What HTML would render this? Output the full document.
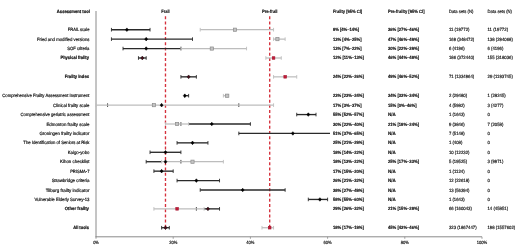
<!DOCTYPE html>
<html><head><meta charset="utf-8"><title>Frailty prevalence forest plot</title>
<style>html,body{margin:0;padding:0;background:#fff;width:520px;height:249px;overflow:hidden}svg{display:block}</style>
</head><body>
<svg width="520" height="249" viewBox="0 0 520 249">
<rect width="520" height="249" fill="#fff"/>
<g><line x1="96" y1="11" x2="96" y2="237.3" stroke="#8a8a8a" stroke-width="1"/><line x1="95.5" y1="236.8" x2="482.00" y2="236.8" stroke="#8a8a8a" stroke-width="1"/><line x1="96.00" y1="236.8" x2="96.00" y2="238.80" stroke="#8a8a8a" stroke-width="0.8"/><line x1="173.20" y1="236.8" x2="173.20" y2="238.80" stroke="#8a8a8a" stroke-width="0.8"/><line x1="250.40" y1="236.8" x2="250.40" y2="238.80" stroke="#8a8a8a" stroke-width="0.8"/><line x1="327.60" y1="236.8" x2="327.60" y2="238.80" stroke="#8a8a8a" stroke-width="0.8"/><line x1="404.80" y1="236.8" x2="404.80" y2="238.80" stroke="#8a8a8a" stroke-width="0.8"/><line x1="482.00" y1="236.8" x2="482.00" y2="238.80" stroke="#8a8a8a" stroke-width="0.8"/></g>
<g><line x1="165.48" y1="16.2" x2="165.48" y2="227.73" stroke="#d5303c" stroke-width="1.35" stroke-dasharray="3.0 2.216"/><line x1="269.70" y1="16.2" x2="269.70" y2="227.73" stroke="#d5303c" stroke-width="1.35" stroke-dasharray="3.0 2.216"/></g>
<g><line x1="111.44" y1="29.70" x2="150.04" y2="29.70" stroke="#2a2a2a" stroke-width="1.35"/><line x1="111.44" y1="27.90" x2="111.44" y2="31.50" stroke="#2a2a2a" stroke-width="0.9"/><line x1="150.04" y1="27.90" x2="150.04" y2="31.50" stroke="#2a2a2a" stroke-width="0.9"/><line x1="111.44" y1="39.13" x2="192.50" y2="39.13" stroke="#2a2a2a" stroke-width="1.35"/><line x1="111.44" y1="37.33" x2="111.44" y2="40.93" stroke="#2a2a2a" stroke-width="0.9"/><line x1="192.50" y1="37.33" x2="192.50" y2="40.93" stroke="#2a2a2a" stroke-width="0.9"/><line x1="123.02" y1="48.56" x2="180.92" y2="48.56" stroke="#2a2a2a" stroke-width="1.35"/><line x1="123.02" y1="46.76" x2="123.02" y2="50.36" stroke="#2a2a2a" stroke-width="0.9"/><line x1="180.92" y1="46.76" x2="180.92" y2="50.36" stroke="#2a2a2a" stroke-width="0.9"/><line x1="138.46" y1="57.99" x2="146.18" y2="57.99" stroke="#2a2a2a" stroke-width="1.35"/><line x1="138.46" y1="56.19" x2="138.46" y2="59.79" stroke="#2a2a2a" stroke-width="0.9"/><line x1="146.18" y1="56.19" x2="146.18" y2="59.79" stroke="#2a2a2a" stroke-width="0.9"/><line x1="180.92" y1="76.85" x2="196.36" y2="76.85" stroke="#2a2a2a" stroke-width="1.35"/><line x1="180.92" y1="75.05" x2="180.92" y2="78.65" stroke="#2a2a2a" stroke-width="0.9"/><line x1="196.36" y1="75.05" x2="196.36" y2="78.65" stroke="#2a2a2a" stroke-width="0.9"/><line x1="184.78" y1="95.71" x2="188.64" y2="95.71" stroke="#2a2a2a" stroke-width="1.35"/><line x1="184.78" y1="93.91" x2="184.78" y2="97.51" stroke="#2a2a2a" stroke-width="0.9"/><line x1="188.64" y1="93.91" x2="188.64" y2="97.51" stroke="#2a2a2a" stroke-width="0.9"/><line x1="107.58" y1="103.34" x2="107.58" y2="106.94" stroke="#2a2a2a" stroke-width="0.9"/><line x1="238.82" y1="103.34" x2="238.82" y2="106.94" stroke="#2a2a2a" stroke-width="0.9"/><line x1="296.72" y1="114.57" x2="316.02" y2="114.57" stroke="#2a2a2a" stroke-width="1.35"/><line x1="296.72" y1="112.77" x2="296.72" y2="116.37" stroke="#2a2a2a" stroke-width="0.9"/><line x1="316.02" y1="112.77" x2="316.02" y2="116.37" stroke="#2a2a2a" stroke-width="0.9"/><line x1="188.64" y1="124.00" x2="250.40" y2="124.00" stroke="#2a2a2a" stroke-width="1.35"/><line x1="180.92" y1="122.20" x2="180.92" y2="125.80" stroke="#2a2a2a" stroke-width="0.9"/><line x1="250.40" y1="122.20" x2="250.40" y2="125.80" stroke="#2a2a2a" stroke-width="0.9"/><line x1="238.82" y1="133.43" x2="330.00" y2="133.43" stroke="#2a2a2a" stroke-width="1.35"/><line x1="238.82" y1="131.63" x2="238.82" y2="135.23" stroke="#2a2a2a" stroke-width="0.9"/><line x1="177.06" y1="142.86" x2="207.94" y2="142.86" stroke="#2a2a2a" stroke-width="1.35"/><line x1="177.06" y1="141.06" x2="177.06" y2="144.66" stroke="#2a2a2a" stroke-width="0.9"/><line x1="207.94" y1="141.06" x2="207.94" y2="144.66" stroke="#2a2a2a" stroke-width="0.9"/><line x1="150.04" y1="152.29" x2="180.92" y2="152.29" stroke="#2a2a2a" stroke-width="1.35"/><line x1="150.04" y1="150.49" x2="150.04" y2="154.09" stroke="#2a2a2a" stroke-width="0.9"/><line x1="180.92" y1="150.49" x2="180.92" y2="154.09" stroke="#2a2a2a" stroke-width="0.9"/><line x1="146.18" y1="161.72" x2="161.62" y2="161.72" stroke="#2a2a2a" stroke-width="1.35"/><line x1="146.18" y1="159.92" x2="146.18" y2="163.52" stroke="#2a2a2a" stroke-width="0.9"/><line x1="180.92" y1="159.92" x2="180.92" y2="163.52" stroke="#2a2a2a" stroke-width="0.9"/><line x1="153.90" y1="171.15" x2="173.20" y2="171.15" stroke="#2a2a2a" stroke-width="1.35"/><line x1="153.90" y1="169.35" x2="153.90" y2="172.95" stroke="#2a2a2a" stroke-width="0.9"/><line x1="173.20" y1="169.35" x2="173.20" y2="172.95" stroke="#2a2a2a" stroke-width="0.9"/><line x1="177.06" y1="180.58" x2="219.52" y2="180.58" stroke="#2a2a2a" stroke-width="1.35"/><line x1="177.06" y1="178.78" x2="177.06" y2="182.38" stroke="#2a2a2a" stroke-width="0.9"/><line x1="219.52" y1="178.78" x2="219.52" y2="182.38" stroke="#2a2a2a" stroke-width="0.9"/><line x1="200.22" y1="190.01" x2="285.14" y2="190.01" stroke="#2a2a2a" stroke-width="1.35"/><line x1="200.22" y1="188.21" x2="200.22" y2="191.81" stroke="#2a2a2a" stroke-width="0.9"/><line x1="285.14" y1="188.21" x2="285.14" y2="191.81" stroke="#2a2a2a" stroke-width="0.9"/><line x1="308.30" y1="199.44" x2="327.60" y2="199.44" stroke="#2a2a2a" stroke-width="1.35"/><line x1="308.30" y1="197.64" x2="308.30" y2="201.24" stroke="#2a2a2a" stroke-width="0.9"/><line x1="327.60" y1="197.64" x2="327.60" y2="201.24" stroke="#2a2a2a" stroke-width="0.9"/><line x1="204.08" y1="208.87" x2="219.52" y2="208.87" stroke="#2a2a2a" stroke-width="1.35"/><line x1="196.36" y1="207.07" x2="196.36" y2="210.67" stroke="#2a2a2a" stroke-width="0.9"/><line x1="219.52" y1="207.07" x2="219.52" y2="210.67" stroke="#2a2a2a" stroke-width="0.9"/><line x1="161.62" y1="227.73" x2="169.34" y2="227.73" stroke="#2a2a2a" stroke-width="1.35"/><line x1="161.62" y1="225.93" x2="161.62" y2="229.53" stroke="#2a2a2a" stroke-width="0.9"/><line x1="169.34" y1="225.93" x2="169.34" y2="229.53" stroke="#2a2a2a" stroke-width="0.9"/></g>
<g><line x1="200.22" y1="29.70" x2="273.56" y2="29.70" stroke="#bdbdbd" stroke-width="1.25"/><line x1="200.22" y1="27.90" x2="200.22" y2="31.50" stroke="#bdbdbd" stroke-width="0.9"/><line x1="273.56" y1="27.90" x2="273.56" y2="31.50" stroke="#bdbdbd" stroke-width="0.9"/><line x1="273.56" y1="39.13" x2="285.14" y2="39.13" stroke="#bdbdbd" stroke-width="1.25"/><line x1="273.56" y1="37.33" x2="273.56" y2="40.93" stroke="#bdbdbd" stroke-width="0.9"/><line x1="285.14" y1="37.33" x2="285.14" y2="40.93" stroke="#bdbdbd" stroke-width="0.9"/><line x1="180.92" y1="48.56" x2="246.54" y2="48.56" stroke="#bdbdbd" stroke-width="1.25"/><line x1="180.92" y1="46.76" x2="180.92" y2="50.36" stroke="#bdbdbd" stroke-width="0.9"/><line x1="246.54" y1="46.76" x2="246.54" y2="50.36" stroke="#bdbdbd" stroke-width="0.9"/><line x1="265.84" y1="57.99" x2="281.28" y2="57.99" stroke="#bdbdbd" stroke-width="1.25"/><line x1="265.84" y1="56.19" x2="265.84" y2="59.79" stroke="#bdbdbd" stroke-width="0.9"/><line x1="281.28" y1="56.19" x2="281.28" y2="59.79" stroke="#bdbdbd" stroke-width="0.9"/><line x1="273.56" y1="76.85" x2="296.72" y2="76.85" stroke="#bdbdbd" stroke-width="1.25"/><line x1="273.56" y1="75.05" x2="273.56" y2="78.65" stroke="#bdbdbd" stroke-width="0.9"/><line x1="296.72" y1="75.05" x2="296.72" y2="78.65" stroke="#bdbdbd" stroke-width="0.9"/><line x1="223.38" y1="95.71" x2="227.24" y2="95.71" stroke="#bdbdbd" stroke-width="1.25"/><line x1="223.38" y1="93.91" x2="223.38" y2="97.51" stroke="#bdbdbd" stroke-width="0.9"/><line x1="227.24" y1="93.91" x2="227.24" y2="97.51" stroke="#bdbdbd" stroke-width="0.9"/><line x1="96.00" y1="105.14" x2="273.56" y2="105.14" stroke="#bdbdbd" stroke-width="1.25"/><line x1="96.00" y1="103.34" x2="96.00" y2="106.94" stroke="#bdbdbd" stroke-width="0.9"/><line x1="273.56" y1="103.34" x2="273.56" y2="106.94" stroke="#bdbdbd" stroke-width="0.9"/><line x1="165.48" y1="124.00" x2="188.64" y2="124.00" stroke="#bdbdbd" stroke-width="1.25"/><line x1="165.48" y1="122.20" x2="165.48" y2="125.80" stroke="#bdbdbd" stroke-width="0.9"/><line x1="188.64" y1="122.20" x2="188.64" y2="125.80" stroke="#bdbdbd" stroke-width="0.9"/><line x1="161.62" y1="161.72" x2="223.38" y2="161.72" stroke="#bdbdbd" stroke-width="1.25"/><line x1="161.62" y1="159.92" x2="161.62" y2="163.52" stroke="#bdbdbd" stroke-width="0.9"/><line x1="223.38" y1="159.92" x2="223.38" y2="163.52" stroke="#bdbdbd" stroke-width="0.9"/><line x1="153.90" y1="208.87" x2="204.08" y2="208.87" stroke="#bdbdbd" stroke-width="1.25"/><line x1="153.90" y1="207.07" x2="153.90" y2="210.67" stroke="#bdbdbd" stroke-width="0.9"/><line x1="204.08" y1="207.07" x2="204.08" y2="210.67" stroke="#bdbdbd" stroke-width="0.9"/><line x1="261.98" y1="227.73" x2="273.56" y2="227.73" stroke="#bdbdbd" stroke-width="1.25"/><line x1="261.98" y1="225.93" x2="261.98" y2="229.53" stroke="#bdbdbd" stroke-width="0.9"/><line x1="273.56" y1="225.93" x2="273.56" y2="229.53" stroke="#bdbdbd" stroke-width="0.9"/></g>
<g><rect x="233.36" y="28.10" width="3.20" height="3.20" fill="#c4c4c4" stroke="#8c8c8c" stroke-width="0.7"/><path d="M126.88 27.90L128.41 29.70L126.88 31.50L125.35 29.70Z" fill="#000" stroke="#000" stroke-width="0.5"/><rect x="275.82" y="37.53" width="3.20" height="3.20" fill="#c4c4c4" stroke="#8c8c8c" stroke-width="0.7"/><path d="M146.18 37.33L147.71 39.13L146.18 40.93L144.65 39.13Z" fill="#000" stroke="#000" stroke-width="0.5"/><rect x="210.20" y="46.96" width="3.20" height="3.20" fill="#c4c4c4" stroke="#8c8c8c" stroke-width="0.7"/><path d="M146.18 46.76L147.71 48.56L146.18 50.36L144.65 48.56Z" fill="#000" stroke="#000" stroke-width="0.5"/><rect x="272.31" y="56.74" width="2.50" height="2.50" fill="#c41c38" stroke="#a81530" stroke-width="0.7"/><path d="M142.32 56.09L143.94 57.99L142.32 59.89L140.70 57.99Z" fill="#4a0a18" stroke="#111" stroke-width="0.5"/><rect x="283.89" y="75.60" width="2.50" height="2.50" fill="#c41c38" stroke="#a81530" stroke-width="0.7"/><path d="M188.64 74.95L190.25 76.85L188.64 78.75L187.02 76.85Z" fill="#4a0a18" stroke="#111" stroke-width="0.5"/><rect x="225.64" y="94.11" width="3.20" height="3.20" fill="#c4c4c4" stroke="#8c8c8c" stroke-width="0.7"/><path d="M184.78 93.91L186.31 95.71L184.78 97.51L183.25 95.71Z" fill="#000" stroke="#000" stroke-width="0.5"/><rect x="152.30" y="103.54" width="3.20" height="3.20" fill="#c4c4c4" stroke="#8c8c8c" stroke-width="0.7"/><path d="M161.62 103.34L163.15 105.14L161.62 106.94L160.09 105.14Z" fill="#000" stroke="#000" stroke-width="0.5"/><path d="M308.30 112.77L309.83 114.57L308.30 116.37L306.77 114.57Z" fill="#000" stroke="#000" stroke-width="0.5"/><rect x="175.46" y="122.40" width="3.20" height="3.20" fill="#c4c4c4" stroke="#8c8c8c" stroke-width="0.7"/><path d="M211.80 122.20L213.33 124.00L211.80 125.80L210.27 124.00Z" fill="#000" stroke="#000" stroke-width="0.5"/><path d="M292.86 131.63L294.39 133.43L292.86 135.23L291.33 133.43Z" fill="#000" stroke="#000" stroke-width="0.5"/><path d="M192.50 141.06L194.03 142.86L192.50 144.66L190.97 142.86Z" fill="#000" stroke="#000" stroke-width="0.5"/><path d="M165.48 150.49L167.01 152.29L165.48 154.09L163.95 152.29Z" fill="#000" stroke="#000" stroke-width="0.5"/><rect x="190.90" y="160.12" width="3.20" height="3.20" fill="#c4c4c4" stroke="#8c8c8c" stroke-width="0.7"/><path d="M165.48 159.92L167.01 161.72L165.48 163.52L163.95 161.72Z" fill="#000" stroke="#000" stroke-width="0.5"/><path d="M161.62 169.35L163.15 171.15L161.62 172.95L160.09 171.15Z" fill="#000" stroke="#000" stroke-width="0.5"/><path d="M196.36 178.78L197.89 180.58L196.36 182.38L194.83 180.58Z" fill="#000" stroke="#000" stroke-width="0.5"/><path d="M242.68 188.21L244.21 190.01L242.68 191.81L241.15 190.01Z" fill="#000" stroke="#000" stroke-width="0.5"/><path d="M319.88 197.64L321.41 199.44L319.88 201.24L318.35 199.44Z" fill="#000" stroke="#000" stroke-width="0.5"/><rect x="175.81" y="207.62" width="2.50" height="2.50" fill="#c41c38" stroke="#a81530" stroke-width="0.7"/><path d="M207.94 206.97L209.56 208.87L207.94 210.77L206.32 208.87Z" fill="#4a0a18" stroke="#111" stroke-width="0.5"/><rect x="268.45" y="226.48" width="2.50" height="2.50" fill="#c41c38" stroke="#a81530" stroke-width="0.7"/><path d="M165.48 225.83L167.10 227.73L165.48 229.63L163.87 227.73Z" fill="#4a0a18" stroke="#111" stroke-width="0.5"/></g>
<g font-family="'Liberation Sans', Arial, sans-serif" font-size="4.6" fill="#111" stroke="#111" stroke-width="0.1" text-rendering="geometricPrecision"><text x="56.85" y="12.60" text-anchor="start" font-weight="bold" stroke-width="0.2" textLength="33.10" lengthAdjust="spacingAndGlyphs">Assessment tool</text><text x="165.48" y="12.60" text-anchor="middle" font-weight="bold" stroke-width="0.15" textLength="8.35" lengthAdjust="spacingAndGlyphs">Frail</text><text x="269.70" y="12.60" text-anchor="middle" font-weight="bold" stroke-width="0.15" textLength="15.57" lengthAdjust="spacingAndGlyphs">Pre-frail</text><text x="332.90" y="12.60" text-anchor="start" font-weight="bold" stroke-width="0.15" textLength="29.32" lengthAdjust="spacingAndGlyphs">Frailty [95% CI]</text><text x="388.00" y="12.60" text-anchor="start" font-weight="bold" stroke-width="0.15" textLength="36.54" lengthAdjust="spacingAndGlyphs">Pre-frailty [95% CI]</text><text x="448.90" y="12.60" text-anchor="start" font-weight="normal" stroke-width="0.16" textLength="24.44" lengthAdjust="spacingAndGlyphs">Data sets (N)</text><text x="487.50" y="12.60" text-anchor="start" font-weight="normal" stroke-width="0.16" textLength="24.44" lengthAdjust="spacingAndGlyphs">Data sets (N)</text><text x="67.85" y="31.20" text-anchor="start" font-weight="normal" stroke-width="0.18" textLength="21.60" lengthAdjust="spacingAndGlyphs">FRAIL scale</text><text x="332.90" y="31.20" text-anchor="start" font-weight="bold" stroke-width="0.15" textLength="26.26" lengthAdjust="spacingAndGlyphs">8% [4%–14%]</text><text x="388.00" y="31.20" text-anchor="start" font-weight="bold" stroke-width="0.15" textLength="31.03" lengthAdjust="spacingAndGlyphs">36% [27%–46%]</text><text x="448.90" y="31.20" text-anchor="start" font-weight="normal" stroke-width="0.16" textLength="20.59" lengthAdjust="spacingAndGlyphs">11 (19772)</text><text x="487.50" y="31.20" text-anchor="start" font-weight="normal" stroke-width="0.16" textLength="20.59" lengthAdjust="spacingAndGlyphs">11 (19772)</text><text x="36.95" y="40.63" text-anchor="start" font-weight="normal" stroke-width="0.18" textLength="52.50" lengthAdjust="spacingAndGlyphs">Fried and modified versions</text><text x="332.90" y="40.63" text-anchor="start" font-weight="bold" stroke-width="0.15" textLength="28.65" lengthAdjust="spacingAndGlyphs">13% [4%–25%]</text><text x="388.00" y="40.63" text-anchor="start" font-weight="bold" stroke-width="0.15" textLength="31.03" lengthAdjust="spacingAndGlyphs">47% [46%–49%]</text><text x="448.90" y="40.63" text-anchor="start" font-weight="normal" stroke-width="0.16" textLength="25.35" lengthAdjust="spacingAndGlyphs">169 (348472)</text><text x="487.50" y="40.63" text-anchor="start" font-weight="normal" stroke-width="0.16" textLength="25.35" lengthAdjust="spacingAndGlyphs">138 (294068)</text><text x="67.15" y="50.06" text-anchor="start" font-weight="normal" stroke-width="0.18" textLength="22.30" lengthAdjust="spacingAndGlyphs">SOF criteria</text><text x="332.90" y="50.06" text-anchor="start" font-weight="bold" stroke-width="0.15" textLength="28.65" lengthAdjust="spacingAndGlyphs">13% [7%–22%]</text><text x="388.00" y="50.06" text-anchor="start" font-weight="bold" stroke-width="0.15" textLength="31.03" lengthAdjust="spacingAndGlyphs">30% [22%–39%]</text><text x="448.90" y="50.06" text-anchor="start" font-weight="normal" stroke-width="0.16" textLength="15.82" lengthAdjust="spacingAndGlyphs">6 (4196)</text><text x="487.50" y="50.06" text-anchor="start" font-weight="normal" stroke-width="0.16" textLength="15.82" lengthAdjust="spacingAndGlyphs">6 (4196)</text><text x="60.45" y="59.49" text-anchor="start" font-weight="bold" stroke-width="0.2" textLength="28.50" lengthAdjust="spacingAndGlyphs">Physical frailty</text><text x="332.90" y="59.49" text-anchor="start" font-weight="bold" stroke-width="0.15" textLength="31.03" lengthAdjust="spacingAndGlyphs">12% [11%–13%]</text><text x="388.00" y="59.49" text-anchor="start" font-weight="bold" stroke-width="0.15" textLength="31.03" lengthAdjust="spacingAndGlyphs">46% [44%–48%]</text><text x="448.90" y="59.49" text-anchor="start" font-weight="normal" stroke-width="0.16" textLength="25.35" lengthAdjust="spacingAndGlyphs">186 (372440)</text><text x="487.50" y="59.49" text-anchor="start" font-weight="normal" stroke-width="0.16" textLength="25.35" lengthAdjust="spacingAndGlyphs">155 (318036)</text><text x="64.75" y="78.35" text-anchor="start" font-weight="bold" stroke-width="0.2" textLength="24.20" lengthAdjust="spacingAndGlyphs">Frailty index</text><text x="332.90" y="78.35" text-anchor="start" font-weight="bold" stroke-width="0.15" textLength="31.03" lengthAdjust="spacingAndGlyphs">24% [22%–26%]</text><text x="388.00" y="78.35" text-anchor="start" font-weight="bold" stroke-width="0.15" textLength="31.03" lengthAdjust="spacingAndGlyphs">49% [46%–52%]</text><text x="448.90" y="78.35" text-anchor="start" font-weight="normal" stroke-width="0.16" textLength="25.35" lengthAdjust="spacingAndGlyphs">71 (1334964)</text><text x="487.50" y="78.35" text-anchor="start" font-weight="normal" stroke-width="0.16" textLength="25.35" lengthAdjust="spacingAndGlyphs">29 (1193745)</text><text x="2.25" y="97.21" text-anchor="start" font-weight="normal" stroke-width="0.18" textLength="87.20" lengthAdjust="spacingAndGlyphs">Comprehensive Frailty Assessment Instrument</text><text x="332.90" y="97.21" text-anchor="start" font-weight="bold" stroke-width="0.15" textLength="31.03" lengthAdjust="spacingAndGlyphs">23% [23%–24%]</text><text x="388.00" y="97.21" text-anchor="start" font-weight="bold" stroke-width="0.15" textLength="31.03" lengthAdjust="spacingAndGlyphs">34% [33%–34%]</text><text x="448.90" y="97.21" text-anchor="start" font-weight="normal" stroke-width="0.16" textLength="18.21" lengthAdjust="spacingAndGlyphs">2 (29480)</text><text x="487.50" y="97.21" text-anchor="start" font-weight="normal" stroke-width="0.16" textLength="18.21" lengthAdjust="spacingAndGlyphs">1 (28245)</text><text x="53.05" y="106.64" text-anchor="start" font-weight="normal" stroke-width="0.18" textLength="36.40" lengthAdjust="spacingAndGlyphs">Clinical frailty scale</text><text x="332.90" y="106.64" text-anchor="start" font-weight="bold" stroke-width="0.15" textLength="28.65" lengthAdjust="spacingAndGlyphs">17% [3%–37%]</text><text x="388.00" y="106.64" text-anchor="start" font-weight="bold" stroke-width="0.15" textLength="28.65" lengthAdjust="spacingAndGlyphs">15% [0%–46%]</text><text x="448.90" y="106.64" text-anchor="start" font-weight="normal" stroke-width="0.16" textLength="15.82" lengthAdjust="spacingAndGlyphs">4 (5982)</text><text x="487.50" y="106.64" text-anchor="start" font-weight="normal" stroke-width="0.16" textLength="15.82" lengthAdjust="spacingAndGlyphs">3 (4277)</text><text x="20.55" y="116.07" text-anchor="start" font-weight="normal" stroke-width="0.18" textLength="68.90" lengthAdjust="spacingAndGlyphs">Comprehensive geriatric assessment</text><text x="332.90" y="116.07" text-anchor="start" font-weight="bold" stroke-width="0.15" textLength="31.03" lengthAdjust="spacingAndGlyphs">55% [52%–57%]</text><text x="388.00" y="116.07" text-anchor="start" font-weight="bold" stroke-width="0.15" textLength="7.76" lengthAdjust="spacingAndGlyphs">N/A</text><text x="448.90" y="116.07" text-anchor="start" font-weight="normal" stroke-width="0.16" textLength="15.82" lengthAdjust="spacingAndGlyphs">1 (1643)</text><text x="487.50" y="116.07" text-anchor="start" font-weight="normal" stroke-width="0.16" textLength="2.38" lengthAdjust="spacingAndGlyphs">0</text><text x="46.45" y="125.50" text-anchor="start" font-weight="normal" stroke-width="0.18" textLength="43.00" lengthAdjust="spacingAndGlyphs">Edmonton frailty scale</text><text x="332.90" y="125.50" text-anchor="start" font-weight="bold" stroke-width="0.15" textLength="31.03" lengthAdjust="spacingAndGlyphs">30% [22%–40%]</text><text x="388.00" y="125.50" text-anchor="start" font-weight="bold" stroke-width="0.15" textLength="31.03" lengthAdjust="spacingAndGlyphs">21% [18%–24%]</text><text x="448.90" y="125.50" text-anchor="start" font-weight="normal" stroke-width="0.16" textLength="15.82" lengthAdjust="spacingAndGlyphs">9 (3846)</text><text x="487.50" y="125.50" text-anchor="start" font-weight="normal" stroke-width="0.16" textLength="15.82" lengthAdjust="spacingAndGlyphs">7 (2058)</text><text x="39.45" y="134.93" text-anchor="start" font-weight="normal" stroke-width="0.18" textLength="50.00" lengthAdjust="spacingAndGlyphs">Groningen frailty indicator</text><text x="332.90" y="134.93" text-anchor="start" font-weight="bold" stroke-width="0.15" textLength="31.03" lengthAdjust="spacingAndGlyphs">51% [37%–65%]</text><text x="388.00" y="134.93" text-anchor="start" font-weight="bold" stroke-width="0.15" textLength="7.76" lengthAdjust="spacingAndGlyphs">N/A</text><text x="448.90" y="134.93" text-anchor="start" font-weight="normal" stroke-width="0.16" textLength="15.82" lengthAdjust="spacingAndGlyphs">7 (5148)</text><text x="487.50" y="134.93" text-anchor="start" font-weight="normal" stroke-width="0.16" textLength="2.38" lengthAdjust="spacingAndGlyphs">0</text><text x="23.35" y="144.36" text-anchor="start" font-weight="normal" stroke-width="0.18" textLength="66.10" lengthAdjust="spacingAndGlyphs">The Identification of Seniors at Risk</text><text x="332.90" y="144.36" text-anchor="start" font-weight="bold" stroke-width="0.15" textLength="31.03" lengthAdjust="spacingAndGlyphs">25% [21%–29%]</text><text x="388.00" y="144.36" text-anchor="start" font-weight="bold" stroke-width="0.15" textLength="7.76" lengthAdjust="spacingAndGlyphs">N/A</text><text x="448.90" y="144.36" text-anchor="start" font-weight="normal" stroke-width="0.16" textLength="13.44" lengthAdjust="spacingAndGlyphs">1 (408)</text><text x="487.50" y="144.36" text-anchor="start" font-weight="normal" stroke-width="0.16" textLength="2.38" lengthAdjust="spacingAndGlyphs">0</text><text x="67.75" y="153.79" text-anchor="start" font-weight="normal" stroke-width="0.18" textLength="21.70" lengthAdjust="spacingAndGlyphs">Kaigo-yobo</text><text x="332.90" y="153.79" text-anchor="start" font-weight="bold" stroke-width="0.15" textLength="31.03" lengthAdjust="spacingAndGlyphs">18% [14%–22%]</text><text x="388.00" y="153.79" text-anchor="start" font-weight="bold" stroke-width="0.15" textLength="7.76" lengthAdjust="spacingAndGlyphs">N/A</text><text x="448.90" y="153.79" text-anchor="start" font-weight="normal" stroke-width="0.16" textLength="20.59" lengthAdjust="spacingAndGlyphs">10 (12232)</text><text x="487.50" y="153.79" text-anchor="start" font-weight="normal" stroke-width="0.16" textLength="2.38" lengthAdjust="spacingAndGlyphs">0</text><text x="60.05" y="163.22" text-anchor="start" font-weight="normal" stroke-width="0.18" textLength="29.40" lengthAdjust="spacingAndGlyphs">Kihon checklist</text><text x="332.90" y="163.22" text-anchor="start" font-weight="bold" stroke-width="0.15" textLength="31.03" lengthAdjust="spacingAndGlyphs">18% [13%–22%]</text><text x="388.00" y="163.22" text-anchor="start" font-weight="bold" stroke-width="0.15" textLength="31.03" lengthAdjust="spacingAndGlyphs">25% [17%–33%]</text><text x="448.90" y="163.22" text-anchor="start" font-weight="normal" stroke-width="0.16" textLength="18.21" lengthAdjust="spacingAndGlyphs">5 (19525)</text><text x="487.50" y="163.22" text-anchor="start" font-weight="normal" stroke-width="0.16" textLength="15.82" lengthAdjust="spacingAndGlyphs">3 (9971)</text><text x="70.15" y="172.65" text-anchor="start" font-weight="normal" stroke-width="0.18" textLength="19.30" lengthAdjust="spacingAndGlyphs">PRISMA-7</text><text x="332.90" y="172.65" text-anchor="start" font-weight="bold" stroke-width="0.15" textLength="31.03" lengthAdjust="spacingAndGlyphs">17% [15%–20%]</text><text x="388.00" y="172.65" text-anchor="start" font-weight="bold" stroke-width="0.15" textLength="7.76" lengthAdjust="spacingAndGlyphs">N/A</text><text x="448.90" y="172.65" text-anchor="start" font-weight="normal" stroke-width="0.16" textLength="15.82" lengthAdjust="spacingAndGlyphs">1 (1124)</text><text x="487.50" y="172.65" text-anchor="start" font-weight="normal" stroke-width="0.16" textLength="2.38" lengthAdjust="spacingAndGlyphs">0</text><text x="51.65" y="182.08" text-anchor="start" font-weight="normal" stroke-width="0.18" textLength="37.80" lengthAdjust="spacingAndGlyphs">Strawbridge criteria</text><text x="332.90" y="182.08" text-anchor="start" font-weight="bold" stroke-width="0.15" textLength="31.03" lengthAdjust="spacingAndGlyphs">26% [21%–32%]</text><text x="388.00" y="182.08" text-anchor="start" font-weight="bold" stroke-width="0.15" textLength="7.76" lengthAdjust="spacingAndGlyphs">N/A</text><text x="448.90" y="182.08" text-anchor="start" font-weight="normal" stroke-width="0.16" textLength="20.59" lengthAdjust="spacingAndGlyphs">12 (22618)</text><text x="487.50" y="182.08" text-anchor="start" font-weight="normal" stroke-width="0.16" textLength="2.38" lengthAdjust="spacingAndGlyphs">0</text><text x="45.65" y="191.51" text-anchor="start" font-weight="normal" stroke-width="0.18" textLength="43.80" lengthAdjust="spacingAndGlyphs">Tilburg frailty indicator</text><text x="332.90" y="191.51" text-anchor="start" font-weight="bold" stroke-width="0.15" textLength="31.03" lengthAdjust="spacingAndGlyphs">38% [27%–49%]</text><text x="388.00" y="191.51" text-anchor="start" font-weight="bold" stroke-width="0.15" textLength="7.76" lengthAdjust="spacingAndGlyphs">N/A</text><text x="448.90" y="191.51" text-anchor="start" font-weight="normal" stroke-width="0.16" textLength="20.59" lengthAdjust="spacingAndGlyphs">13 (56394)</text><text x="487.50" y="191.51" text-anchor="start" font-weight="normal" stroke-width="0.16" textLength="2.38" lengthAdjust="spacingAndGlyphs">0</text><text x="34.55" y="200.94" text-anchor="start" font-weight="normal" stroke-width="0.18" textLength="54.90" lengthAdjust="spacingAndGlyphs">Vulnerable Elderly Survey-13</text><text x="332.90" y="200.94" text-anchor="start" font-weight="bold" stroke-width="0.15" textLength="31.03" lengthAdjust="spacingAndGlyphs">58% [55%–60%]</text><text x="388.00" y="200.94" text-anchor="start" font-weight="bold" stroke-width="0.15" textLength="7.76" lengthAdjust="spacingAndGlyphs">N/A</text><text x="448.90" y="200.94" text-anchor="start" font-weight="normal" stroke-width="0.16" textLength="15.82" lengthAdjust="spacingAndGlyphs">1 (1643)</text><text x="487.50" y="200.94" text-anchor="start" font-weight="normal" stroke-width="0.16" textLength="2.38" lengthAdjust="spacingAndGlyphs">0</text><text x="64.75" y="210.37" text-anchor="start" font-weight="bold" stroke-width="0.2" textLength="24.20" lengthAdjust="spacingAndGlyphs">Other frailty</text><text x="332.90" y="210.37" text-anchor="start" font-weight="bold" stroke-width="0.15" textLength="31.03" lengthAdjust="spacingAndGlyphs">29% [26%–32%]</text><text x="388.00" y="210.37" text-anchor="start" font-weight="bold" stroke-width="0.15" textLength="31.03" lengthAdjust="spacingAndGlyphs">21% [15%–28%]</text><text x="448.90" y="210.37" text-anchor="start" font-weight="normal" stroke-width="0.16" textLength="22.97" lengthAdjust="spacingAndGlyphs">66 (160043)</text><text x="487.50" y="210.37" text-anchor="start" font-weight="normal" stroke-width="0.16" textLength="20.59" lengthAdjust="spacingAndGlyphs">14 (45851)</text><text x="73.15" y="229.23" text-anchor="start" font-weight="bold" stroke-width="0.2" textLength="15.80" lengthAdjust="spacingAndGlyphs">All tools</text><text x="332.90" y="229.23" text-anchor="start" font-weight="bold" stroke-width="0.15" textLength="31.03" lengthAdjust="spacingAndGlyphs">18% [17%–19%]</text><text x="388.00" y="229.23" text-anchor="start" font-weight="bold" stroke-width="0.15" textLength="31.03" lengthAdjust="spacingAndGlyphs">45% [43%–46%]</text><text x="448.90" y="229.23" text-anchor="start" font-weight="normal" stroke-width="0.16" textLength="27.73" lengthAdjust="spacingAndGlyphs">323 (1867447)</text><text x="487.50" y="229.23" text-anchor="start" font-weight="normal" stroke-width="0.16" textLength="27.73" lengthAdjust="spacingAndGlyphs">198 (1557602)</text><text x="96.00" y="244.30" text-anchor="middle" stroke-width="0.16" textLength="5.74" lengthAdjust="spacingAndGlyphs">0%</text><text x="173.20" y="244.30" text-anchor="middle" stroke-width="0.16" textLength="8.12" lengthAdjust="spacingAndGlyphs">20%</text><text x="250.40" y="244.30" text-anchor="middle" stroke-width="0.16" textLength="8.12" lengthAdjust="spacingAndGlyphs">40%</text><text x="327.60" y="244.30" text-anchor="middle" stroke-width="0.16" textLength="8.12" lengthAdjust="spacingAndGlyphs">60%</text><text x="404.80" y="244.30" text-anchor="middle" stroke-width="0.16" textLength="8.12" lengthAdjust="spacingAndGlyphs">80%</text><text x="482.00" y="244.30" text-anchor="middle" stroke-width="0.16" textLength="10.51" lengthAdjust="spacingAndGlyphs">100%</text></g>
</svg>
</body></html>
